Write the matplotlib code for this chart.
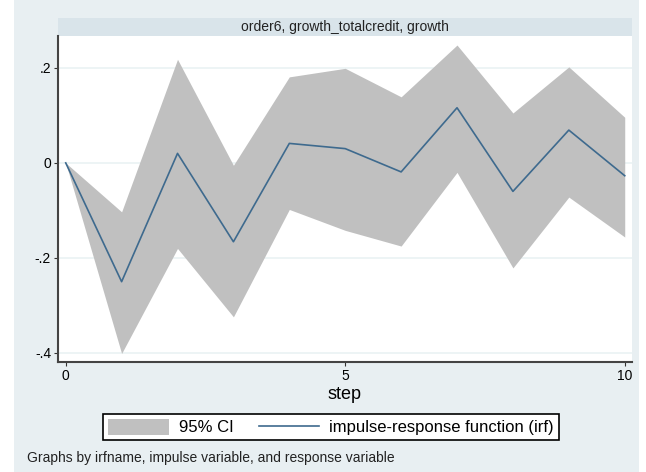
import numpy as np
import matplotlib
matplotlib.use('Agg')
import matplotlib.pyplot as plt
from matplotlib.patches import Rectangle, Patch
from matplotlib.lines import Line2D

# irf values
step = [0, 1, 2, 3, 4, 5, 6, 7, 8, 9, 10]
irf = [0.0, -0.250, 0.020, -0.166, 0.041, 0.030, -0.019, 0.116, -0.060, 0.069, -0.027]
ci_upper = [0.0, -0.103, 0.218, -0.005, 0.181, 0.199, 0.139, 0.248, 0.105, 0.202, 0.096]
ci_lower = [0.0, -0.401, -0.180, -0.324, -0.098, -0.142, -0.175, -0.020, -0.221, -0.072, -0.156]
yticks = [0.2, 0.0, -0.2, -0.4]
ytick_labels = ['.2', '0', '-.2', '-.4']
xticks = [0, 5, 10]

plt.rcParams['font.family'] = ['Liberation Sans', 'DejaVu Sans']

W, H = 646, 472
fig = plt.figure(figsize=(W / 100, H / 100), dpi=100)
fig.patch.set_facecolor('white')

# stata style background panel
fig.add_artist(Rectangle((14 / W, 0), (639 - 14) / W, 1, transform=fig.transFigure,
                         facecolor='#e8eff2', edgecolor='none', zorder=-2))
# title strip
fig.add_artist(Rectangle((58 / W, 1 - 36 / H), (632 - 58) / W, 18 / H, transform=fig.transFigure,
                         facecolor='#d9e4ea', edgecolor='none', zorder=-1))
fig.text((58 + 632) / 2 / W, 1 - 27 / H, 'order6, growth_totalcredit, growth',
         ha='center', va='center', fontsize=10, color='#222222')

ax = fig.add_axes([58 / W, 1 - 362 / H, (632 - 58) / W, (362 - 36) / H])
ax.set_zorder(1)
ax.set_facecolor('white')

ax.fill_between(step, ci_lower, ci_upper, color='#c0c0c0', linewidth=0, zorder=2)
ax.plot(step, irf, color='#3e6a8e', linewidth=1.2, zorder=3)

ax.set_xlim(-0.138, 10.13)
ax.set_ylim(-0.419, 0.267)

ax.set_yticks(yticks)
ax.set_yticklabels(ytick_labels)
ax.set_xticks(xticks)
ax.grid(axis='y', color='#eaf2f4', linewidth=1.2, zorder=1)
ax.set_axisbelow(True)
ax.tick_params(axis='both', labelsize=10, length=3, width=0.8, color='#333333', pad=2)

for s in ['top', 'right']:
    ax.spines[s].set_visible(False)
for s in ['left', 'bottom']:
    ax.spines[s].set_color('#444444')
    ax.spines[s].set_linewidth(1.5)

ax.set_xlabel('step', fontsize=13, labelpad=2)

handles = [Patch(facecolor='#c0c0c0', edgecolor='none'),
           Line2D([], [], color='#3e6a8e', linewidth=1.2)]
leg = fig.legend(handles, ['95% CI', 'impulse-response function (irf)'], ncol=2,
                 loc='center', bbox_to_anchor=(331 / W, 1 - 427 / H), fontsize=12,
                 frameon=True, fancybox=False, edgecolor='black', facecolor='white',
                 framealpha=1, handlelength=3.65, handleheight=1.1, columnspacing=1.5,
                 borderpad=0.3, handletextpad=0.6, borderaxespad=0)
leg.get_frame().set_linewidth(1.2)

fig.text(27 / W, 1 - 458 / H, 'Graphs by irfname, impulse variable, and response variable',
         ha='left', va='center', fontsize=10, color='#222222')

fig.savefig('out.png', dpi=100)
